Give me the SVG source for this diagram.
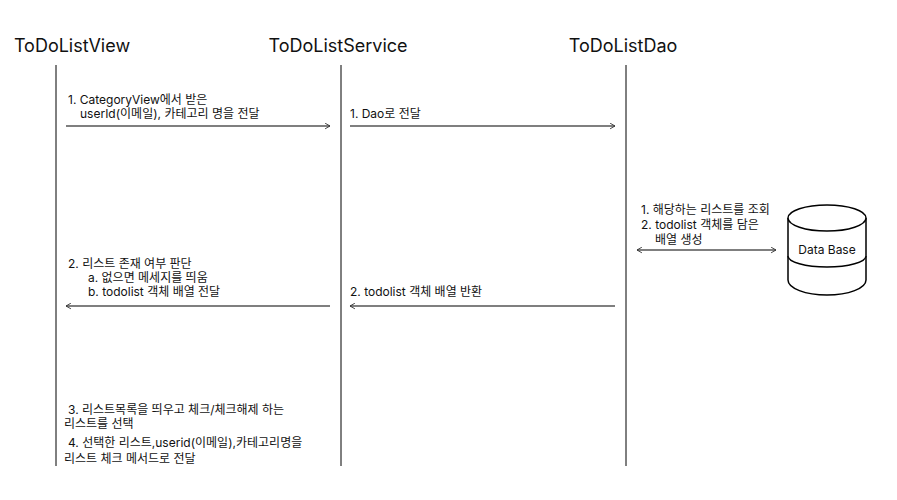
<svg xmlns="http://www.w3.org/2000/svg" width="897" height="500" viewBox="0 0 897 500">
<style>
text{font-family:Inter,"Noto Sans CJK KR",sans-serif;fill:#111}
.title{font-size:18px}
.lbl{font-size:12px}
.life{stroke:#000;stroke-width:1}
.msg{stroke:#555;stroke-width:1.3;fill:none}
.db{stroke:#000;stroke-width:1.5;fill:#fff}
</style>
<defs>
<marker id="ah" viewBox="0 0 10 10" refX="9" refY="5" markerWidth="7" markerHeight="7" orient="auto-start-reverse" markerUnits="userSpaceOnUse">
<path d="M2,1 L9,5 L2,9" fill="none" stroke="#333" stroke-width="1.3"/>
</marker>
</defs>
<rect width="897" height="500" fill="#fff"/>
<g id="view">
<text class="title" x="72" y="52" text-anchor="middle">ToDoListView</text>
<line class="life" x1="56" y1="65" x2="56" y2="466"/>
</g>
<g id="service">
<text class="title" x="338" y="52" text-anchor="middle">ToDoListService</text>
<line class="life" x1="341" y1="65" x2="341" y2="466"/>
</g>
<g id="dao">
<text class="title" x="623" y="52" text-anchor="middle">ToDoListDao</text>
<line class="life" x1="626" y1="65" x2="626" y2="466"/>
</g>
<g id="database">
<path class="db" d="M788,218 L788,280 A39,15 0 0 0 866,280 L866,218"/>
<ellipse class="db" cx="827" cy="218" rx="39" ry="13"/>
<path class="db" d="M788,256 A39,11 0 0 0 866,256" fill="none"/>
<text x="827" y="254" font-size="12" text-anchor="middle">Data Base</text>
</g>
<g id="connectors">
<line class="msg" x1="66" y1="126" x2="330" y2="126" marker-end="url(#ah)"/>
<line class="msg" x1="350" y1="126" x2="615" y2="126" marker-end="url(#ah)"/>
<line class="msg" x1="330" y1="306" x2="66" y2="306" marker-end="url(#ah)"/>
<line class="msg" x1="615" y1="306" x2="350" y2="306" marker-end="url(#ah)"/>
<line class="msg" x1="637" y1="250" x2="776" y2="250" marker-start="url(#ah)" marker-end="url(#ah)"/>
</g>
<g id="labels">
<text class="lbl" x="68" y="104">1. CategoryView에서 받은</text>
<text class="lbl" x="80" y="118">userId(이메일), 카테고리 명을 전달</text>
<text class="lbl" x="350" y="118">1. Dao로 전달</text>
<text class="lbl" x="641" y="214">1. 해당하는 리스트를 조회</text>
<text class="lbl" x="641" y="229">2. todolist 객체를 담은</text>
<text class="lbl" x="655" y="244">배열 생성</text>
<text class="lbl" x="68" y="268">2. 리스트 존재 여부 판단</text>
<text class="lbl" x="88" y="282">a. 없으면 메세지를 띄움</text>
<text class="lbl" x="88" y="296">b. todolist 객체 배열 전달</text>
<text class="lbl" x="350" y="296">2. todolist 객체 배열 반환</text>
<text class="lbl" x="68" y="414">3. 리스트목록을 띄우고 체크/체크해제 하는</text>
<text class="lbl" x="64" y="428">리스트를 선택</text>
<text class="lbl" x="68" y="447">4. 선택한 리스트,userid(이메일),카테고리명을</text>
<text class="lbl" x="64" y="463">리스트 체크 메서드로 전달</text>
</g>
</svg>
